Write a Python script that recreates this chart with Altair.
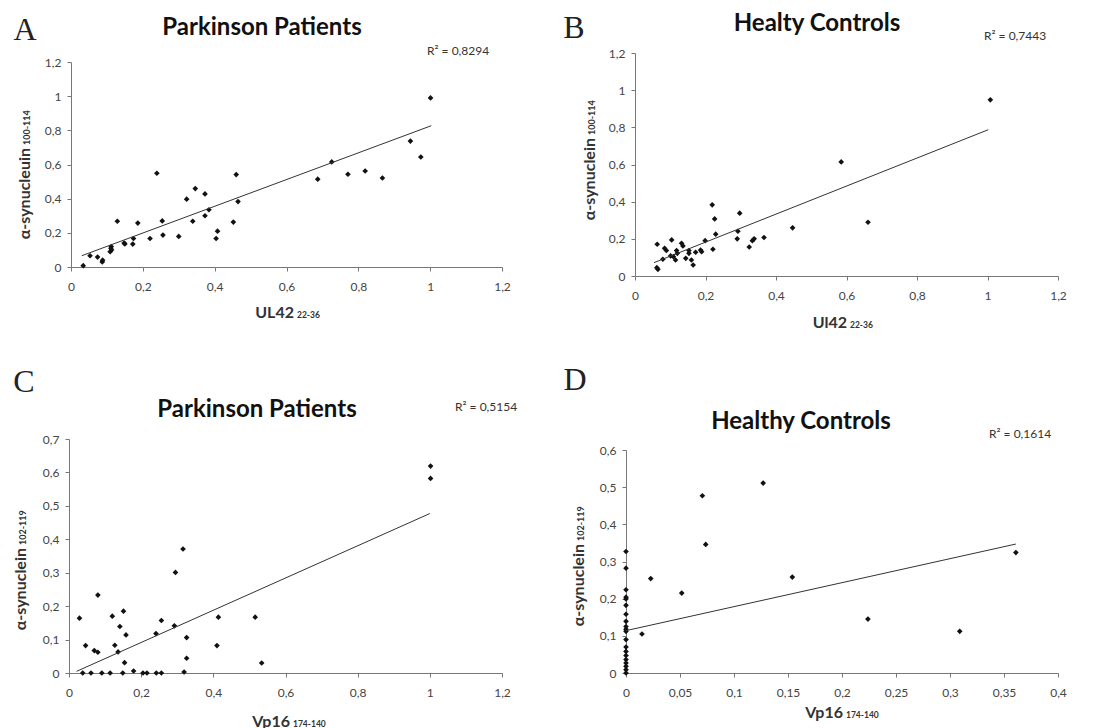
import altair as alt
import pandas as pd

# ---------------- data ----------------
a_x = [0.034, 0.053, 0.074, 0.087, 0.088, 0.109, 0.111, 0.112, 0.113, 0.129, 0.148, 0.150,
       0.172, 0.174, 0.186, 0.220, 0.239, 0.254, 0.256, 0.300, 0.322, 0.339, 0.346, 0.373,
       0.373, 0.384, 0.404, 0.408, 0.452, 0.460, 0.465, 0.687, 0.726, 0.771, 0.819, 0.867,
       0.945, 0.974, 1.001]
a_y = [0.008, 0.066, 0.058, 0.030, 0.040, 0.090, 0.110, 0.120, 0.100, 0.268, 0.140, 0.135,
       0.134, 0.167, 0.257, 0.167, 0.549, 0.270, 0.187, 0.179, 0.397, 0.268, 0.459, 0.428,
       0.300, 0.335, 0.167, 0.210, 0.263, 0.541, 0.383, 0.514, 0.615, 0.543, 0.562, 0.521,
       0.737, 0.644, 0.990]
a_trend_x = [0.030, 1.003]
a_trend_y = [0.066, 0.827]

b_x = [0.063, 0.062, 0.065, 0.079, 0.084, 0.089, 0.104, 0.101, 0.109, 0.115, 0.118, 0.120,
       0.132, 0.136, 0.144, 0.153, 0.153, 0.160, 0.165, 0.172, 0.186, 0.189, 0.199, 0.219,
       0.221, 0.226, 0.229, 0.292, 0.290, 0.297, 0.324, 0.333, 0.338, 0.366, 0.447, 0.585,
       0.661, 1.008]
b_y = [0.171, 0.045, 0.036, 0.090, 0.149, 0.137, 0.194, 0.108, 0.104, 0.086, 0.137, 0.122,
       0.176, 0.162, 0.095, 0.122, 0.137, 0.086, 0.059, 0.128, 0.140, 0.131, 0.190, 0.383,
       0.144, 0.307, 0.225, 0.241, 0.200, 0.338, 0.156, 0.190, 0.200, 0.207, 0.259, 0.614,
       0.289, 0.948]
b_trend_x = [0.054, 1.002]
b_trend_y = [0.072, 0.787]

c_x = [0.029, 0.038, 0.046, 0.061, 0.070, 0.080, 0.080, 0.091, 0.114, 0.120, 0.127, 0.136,
       0.141, 0.149, 0.151, 0.158, 0.154, 0.179, 0.205, 0.216, 0.241, 0.242, 0.256, 0.256,
       0.292, 0.295, 0.316, 0.319, 0.326, 0.326, 0.410, 0.414, 0.516, 0.534, 1.002, 1.002]
c_y = [0.164, 0.000, 0.082, 0.000, 0.067, 0.062, 0.233, 0.000, 0.000, 0.170, 0.083, 0.063,
       0.139, 0.000, 0.185, 0.114, 0.031, 0.006, 0.000, 0.000, 0.118, 0.000, 0.157, 0.000,
       0.141, 0.301, 0.371, 0.003, 0.106, 0.044, 0.082, 0.167, 0.167, 0.030, 0.619, 0.582]
c_trend_x = [0.021, 1.000]
c_trend_y = [0.005, 0.477]

d_x = [0.0] * 20 + [0.0148, 0.0229, 0.0516, 0.0707, 0.0738, 0.127, 0.154, 0.224, 0.309, 0.361]
d_y = [0.327, 0.282, 0.224, 0.204, 0.199, 0.182, 0.158, 0.139, 0.125, 0.118, 0.112, 0.090,
       0.070, 0.058, 0.047, 0.036, 0.027, 0.018, 0.009, 0.000,
       0.105, 0.254, 0.215, 0.477, 0.346, 0.511, 0.258, 0.145, 0.112, 0.324]
d_trend_x = [0.000, 0.361]
d_trend_y = [0.114, 0.347]

ticks_12 = [0, 0.2, 0.4, 0.6, 0.8, 1.0, 1.2]
ticks_07 = [0, 0.1, 0.2, 0.3, 0.4, 0.5, 0.6, 0.7]
ticks_06 = [0, 0.1, 0.2, 0.3, 0.4, 0.5, 0.6]
ticks_04 = [0, 0.05, 0.1, 0.15, 0.2, 0.25, 0.3, 0.35, 0.4]

LABEL_EXPR = "replace(format(datum.value, '~g'), '.', ',')"
SANS = "Lato"


def txt(s, x, y, **kw):
    return alt.Chart(pd.DataFrame({"t": [s]})).mark_text(**kw).encode(
        text="t:N", x=alt.value(x), y=alt.value(y))


def panel(px, py, pw, ph, vw, vh, xs, ys, tx, ty, xdom, xticks, ydom, yticks,
          letter, title, r2, xmain, xsub, ymain, ysub, pos):
    pts = pd.DataFrame({"x": xs, "y": ys})
    trend = pd.DataFrame({"x": tx, "y": ty})
    xaxis = alt.Axis(values=xticks, labelExpr=LABEL_EXPR, grid=False, title=None,
                     domainColor="#777", tickColor="#777", tickSize=4,
                     labelFont=SANS, labelFontSize=12, labelColor="#444",
                     labelPadding=10, offset=(py + ph) - vh, labelFlush=False)
    yaxis = alt.Axis(values=yticks, labelExpr=LABEL_EXPR, grid=False, title=None,
                     domainColor="#777", tickColor="#777", tickSize=4,
                     labelFont=SANS, labelFontSize=12, labelColor="#444",
                     labelPadding=6, offset=-px, labelFlush=False)
    xenc = alt.X("x:Q", scale=alt.Scale(domain=xdom, range=[px, px + pw], nice=False, zero=False),
                 axis=xaxis)
    yenc = alt.Y("y:Q", scale=alt.Scale(domain=ydom, range=[py + ph, py], nice=False, zero=False),
                 axis=yaxis)
    points = alt.Chart(pts).mark_point(shape="diamond", filled=True, size=32,
                                       color="#111", opacity=1).encode(x=xenc, y=yenc)
    line = alt.Chart(trend).mark_line(color="#333", strokeWidth=1).encode(x=xenc, y=yenc)

    def P(key):
        return px + pos[key][0], py + pos[key][1]

    lx, ly = P("letter")
    tlx, tly = P("title")
    rx, ry = P("r2")
    xx, xy = px + pos["xtitle"][0], py + ph + pos["xtitle"][1]
    yx, yy = P("ytitle")
    layers = [
        points, line,
        txt(letter, lx, ly, font="Liberation Serif", fontSize=32, color="#222",
            align="center", baseline="middle"),
        txt(title, tlx, tly, font=SANS, fontSize=24, fontWeight="bold", color="#111",
            align="center", baseline="middle"),
        txt(r2, rx, ry, font=SANS, fontSize=12, color="#333", align="left", baseline="middle"),
        txt(xmain, xx - 1, xy, font=SANS, fontSize=16, fontWeight="bold", color="#333",
            align="right", baseline="middle"),
        txt(xsub, xx + 2, xy + 2, font=SANS, fontSize=8.5, fontWeight="bold", color="#333",
            align="left", baseline="middle"),
        txt(ymain, yx, yy + 1, font=SANS, fontSize=16, fontWeight="bold", color="#333",
            align="right", baseline="middle", angle=270),
        txt(ysub, yx + 2, yy - 2, font=SANS, fontSize=9, fontWeight="bold", color="#333",
            align="left", baseline="middle", angle=270),
    ]
    return alt.layer(*layers).properties(width=vw, height=vh)


A = panel(2, 9, 431, 205, 433, 223, a_x, a_y, a_trend_x, a_trend_y,
          [0, 1.2], ticks_12, [0, 1.2], ticks_12,
          "A", "Parkinson Patients", "R\u00b2 = 0,8294", "UL42", "22-36",
          "\u03b1-synucleuin", "100-114",
          {"letter": (-46, -32), "title": (191, -34), "r2": (356, -11),
           "xtitle": (224, 46), "ytitle": (-46, 85)})

B = panel(9, 0, 423, 223, 432, 223, b_x, b_y, b_trend_x, b_trend_y,
          [0, 1.2], ticks_12, [0, 1.2], ticks_12,
          "B", "Healty Controls", "R\u00b2 = 0,7443", "Ul42", "22-36",
          "\u03b1-synuclein", "100-114",
          {"letter": (-61, -25), "title": (182, -29), "r2": (349, -17),
           "xtitle": (213, 47), "ytitle": (-45, 84)})

C = panel(0, 0, 433, 234, 433, 234, c_x, c_y, c_trend_x, c_trend_y,
          [0, 1.2], ticks_12, [0, 0.7], ticks_07,
          "C", "Parkinson Patients", "R\u00b2 = 0,5154", "Vp16", "174-140",
          "\u03b1-synuclein", "102-119",
          {"letter": (-45, -57), "title": (188, -29), "r2": (386, -32),
           "xtitle": (222, 49), "ytitle": (-48, 108)})

D = panel(0, 11, 432, 223, 432, 234, d_x, d_y, d_trend_x, d_trend_y,
          [0, 0.4], ticks_04, [0, 0.6], ticks_06,
          "D", "Healthy Controls", "R\u00b2 = 0,1614", "Vp16", "174-140",
          "\u03b1-synuclein", "102-119",
          {"letter": (-51, -70), "title": (175, -28), "r2": (363, -16),
           "xtitle": (218, 40), "ytitle": (-47, 93)})

chart = alt.concat(A, B, C, D, columns=2, spacing={"row": 163, "column": 124},
                   bounds="flush").properties(
    padding={"left": 5, "top": 4, "right": 0, "bottom": 0},
    background="white",
).configure_view(stroke=None)

chart.save("out.html", embed_options={"renderer": "svg", "actions": False})
